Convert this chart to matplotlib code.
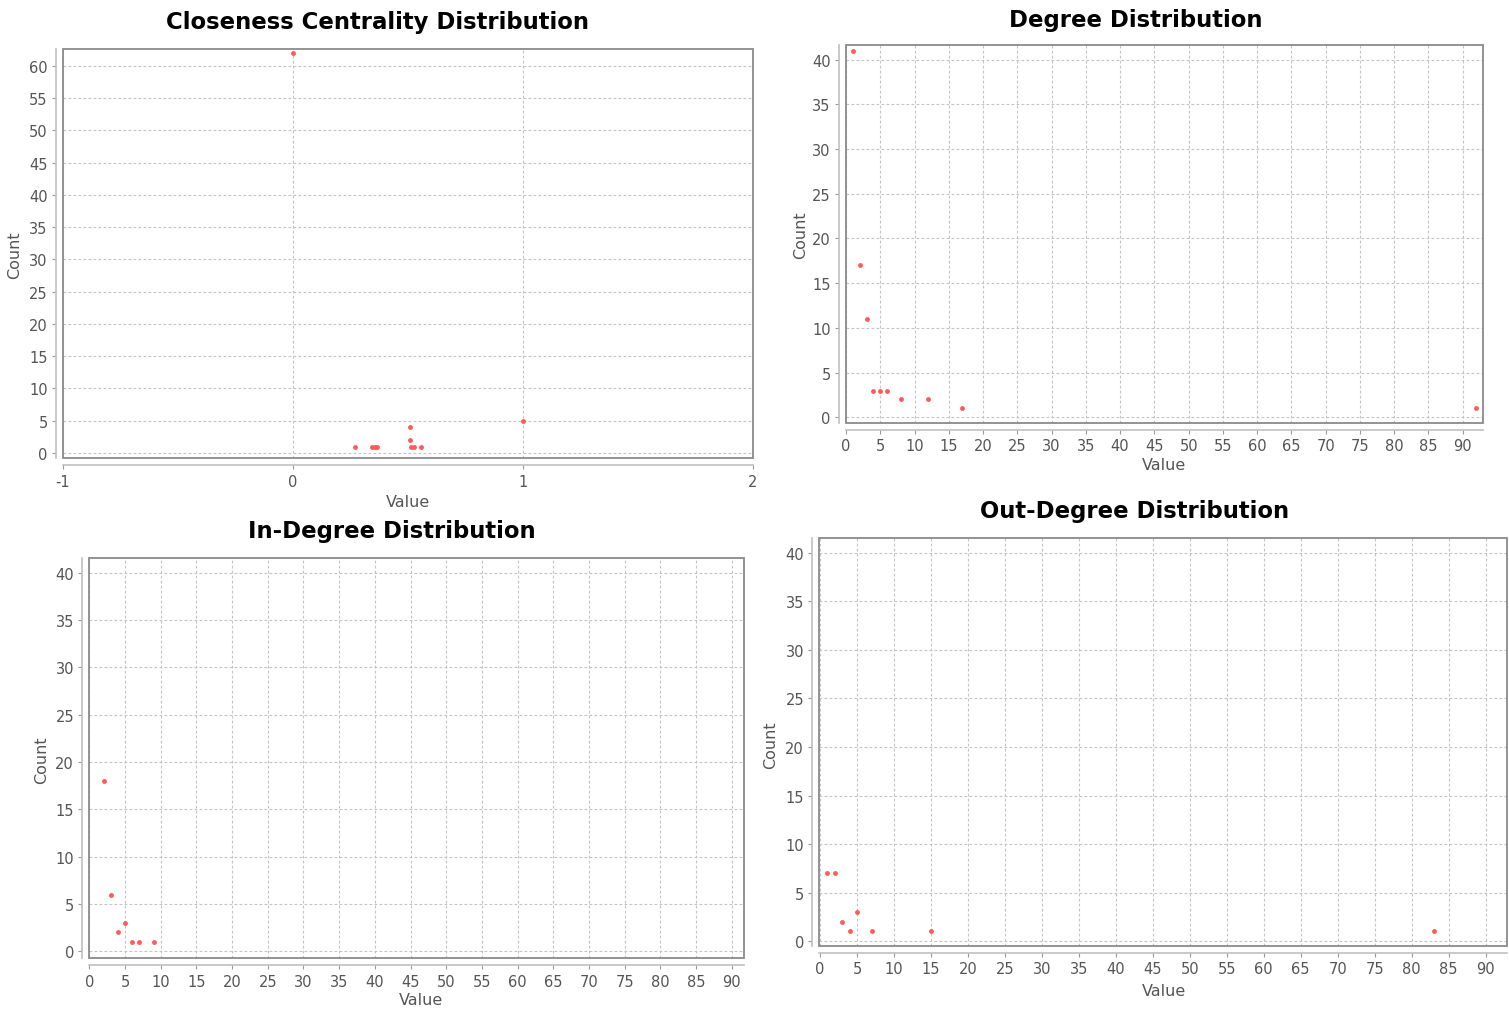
import matplotlib.pyplot as plt
from matplotlib.patches import Rectangle

plt.rcParams['axes.unicode_minus'] = False

W, H = 1509, 1012

# data
closeness_x = [0.0, 0.27, 0.345, 0.355, 0.365, 0.51, 0.509, 0.515, 0.527, 0.557, 1.0]
closeness_y = [62, 1, 1, 1, 1, 4, 2, 1, 1, 1, 5]

degree_x = [1, 2, 3, 4, 5, 6, 8, 12, 17, 92]
degree_y = [41, 17, 11, 3, 3, 3, 2, 2, 1, 1]

in_x = [2, 3, 4, 5, 6, 7, 9]
in_y = [18, 6, 2, 3, 1, 1, 1]

out_x = [1, 2, 3, 4, 5, 7, 15, 83]
out_y = [7, 7, 2, 1, 3, 1, 1, 1]

closeness_xticks = [-1, 0, 1, 2]
closeness_yticks = list(range(0, 61, 5))
deg_xticks = list(range(0, 91, 5))
deg_yticks = list(range(0, 41, 5))

fig = plt.figure(figsize=(W / 100, H / 100), dpi=100)
fig.patch.set_facecolor('white')


def px(x, y):
    return x / W, 1 - y / H


def panel(box, xs, ys, xlim, ylim, xticks, yticks, title, tpos, vpos, cpos):
    l, t, r, b = box
    ax = fig.add_axes([l / W, 1 - b / H, (r - l) / W, (b - t) / H])
    ax.plot(xs, ys, 'o', color='#ff5a5a', ms=3.5, mew=0, zorder=3)
    ax.set_xlim(*xlim)
    ax.set_ylim(*ylim)
    ax.set_xticks(xticks)
    ax.set_yticks(yticks)
    ax.grid(True, color='#c4c4c4', linestyle=(0, (2.5, 2)), linewidth=0.8)
    ax.set_axisbelow(True)
    for s in ['top', 'right']:
        ax.spines[s].set_visible(False)
    for s in ['left', 'bottom']:
        ax.spines[s].set_position(('outward', 5))
        ax.spines[s].set_color('#c0c0c0')
        ax.spines[s].set_linewidth(1.2)
    ax.add_patch(Rectangle((0, 0), 1, 1, transform=ax.transAxes, fill=False,
                           edgecolor='#8a8a8a', lw=1.3, clip_on=False, zorder=4))
    ax.tick_params(length=3, width=0.8, color='#999999', labelcolor='#555555',
                   labelsize=10.5, pad=3)
    fig.text(*px(*tpos), title, ha='center', va='center', fontsize=16.4,
             fontweight='bold', color='black')
    fig.text(*px(*vpos), 'Value', ha='center', va='center', fontsize=11.5,
             color='#555555')
    fig.text(*px(*cpos), 'Count', ha='center', va='center', fontsize=11.5,
             color='#555555', rotation=90)
    return ax


panel((63, 49.5, 753, 459.3), closeness_x, closeness_y, (-1, 2), (-0.82, 62.66),
      closeness_xticks, closeness_yticks, 'Closeness Centrality Distribution',
      (378, 22), (408, 503), (15, 255))

panel((846, 46, 1483.3, 423.7), degree_x, degree_y, (0.05, 93.0), (-0.6, 41.64),
      deg_xticks, deg_yticks, 'Degree Distribution',
      (1136, 20), (1164, 465), (801, 235))

panel((89.3, 559.3, 744, 959.3), in_x, in_y, (0.0, 91.7), (-0.74, 41.52),
      deg_xticks, deg_yticks, 'In-Degree Distribution',
      (392, 532), (421, 1001), (42, 760))

panel((819.3, 539.3, 1507, 947), out_x, out_y, (-0.1, 92.9), (-0.5, 41.5),
      deg_xticks, deg_yticks, 'Out-Degree Distribution',
      (1135, 512), (1164, 992), (771, 745))

fig.savefig('out.png', dpi=100, facecolor='white')
